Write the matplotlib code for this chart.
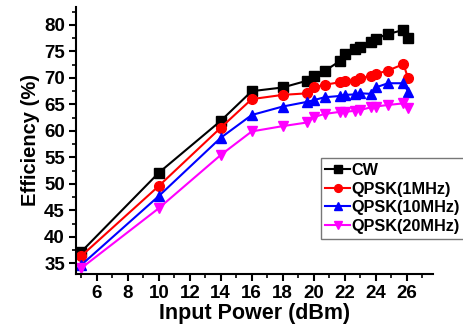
import matplotlib
matplotlib.use("Agg")
import matplotlib.pyplot as plt
from matplotlib.ticker import MultipleLocator

x = [5, 10, 14, 16, 18, 19.6, 20, 20.7, 21.7, 22, 22.7, 23, 23.7, 24, 24.8, 25.8, 26.1]
cw = [37.2, 52.1, 61.9, 67.5, 68.2, 69.5, 70.4, 71.3, 73.2, 74.5, 75.5, 75.9, 76.85, 77.4, 78.3, 79.05, 77.5]
qpsk1 = [36.4, 49.6, 60.6, 66.0, 66.8, 67.1, 68.2, 68.7, 69.2, 69.5, 69.5, 69.9, 70.4, 70.75, 71.4, 72.6, 69.9]
qpsk10 = [34.7, 47.7, 58.7, 63.0, 64.6, 65.5, 65.8, 66.35, 66.6, 66.8, 66.9, 67.1, 67.0, 68.2, 69.0, 69.0, 67.4]
qpsk20 = [34.1, 45.4, 55.45, 59.9, 60.9, 61.6, 62.6, 63.2, 63.6, 63.6, 63.8, 63.95, 64.45, 64.6, 64.9, 65.2, 64.3]
labels = ["CW", "QPSK(1MHz)", "QPSK(10MHz)", "QPSK(20MHz)"]
colors = ["black", "red", "blue", "#ff00ff"]
markers = ["s", "o", "^", "v"]
xticks = [6, 8, 10, 12, 14, 16, 18, 20, 22, 24, 26]
yticks = [35, 40, 45, 50, 55, 60, 65, 70, 75, 80]

plt.rcParams['font.family'] = ['Liberation Sans', 'DejaVu Sans']
fig = plt.figure(figsize=(4.64, 3.32), dpi=100)
ax = fig.add_axes([0.164, 0.175, 0.769, 0.804])

for ys, lab, c, m in zip([cw, qpsk1, qpsk10, qpsk20], labels, colors, markers):
    ax.plot(x, ys, color=c, marker=m, markersize=7, linewidth=1.5, label=lab)

ax.set_xlim(4.66, 27.7)
ax.set_ylim(33.0, 83.4)
ax.set_xticks(xticks)
ax.set_yticks(yticks)
ax.xaxis.set_minor_locator(MultipleLocator(1))
ax.yaxis.set_minor_locator(MultipleLocator(2.5))
for s in ["top", "right"]:
    ax.spines[s].set_visible(False)
for s in ["left", "bottom"]:
    ax.spines[s].set_linewidth(1.5)
ax.tick_params(which='major', direction='out', length=5, width=1.5, labelsize=13.5, pad=3)
ax.tick_params(which='minor', direction='out', length=3, width=1.2)
for lbl in ax.get_xticklabels() + ax.get_yticklabels():
    lbl.set_fontweight('bold')
ax.set_xlabel("Input Power (dBm)", fontsize=15.5, fontweight='bold', labelpad=1)
ax.set_ylabel("Efficiency (%)", fontsize=14.5, fontweight='bold', labelpad=3)

leg = ax.legend(loc='upper left', bbox_to_anchor=(0.685, 0.434),
                prop={'weight': 'bold', 'size': 11.7}, frameon=True, fancybox=False,
                edgecolor='#555555', handlelength=1.5, handletextpad=0.1,
                borderpad=0.3, labelspacing=0.22, markerscale=0.8,
                borderaxespad=0)
leg.get_frame().set_linewidth(1.0)

fig.savefig("out.png", dpi=100)
